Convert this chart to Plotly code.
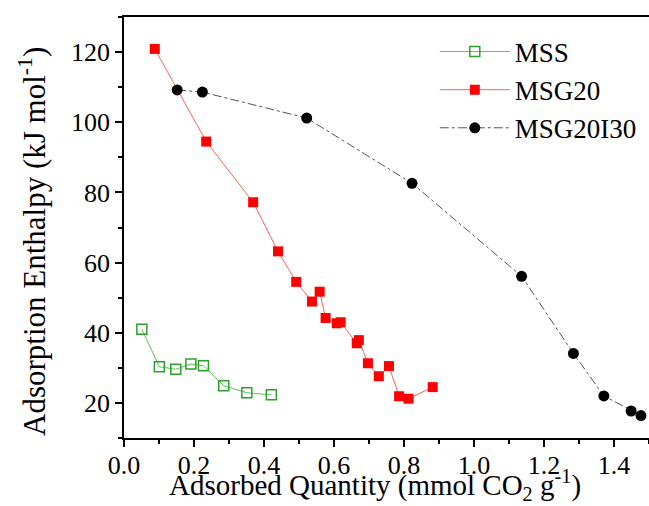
import plotly.graph_objects as go

mss_x = [0.051, 0.101, 0.148, 0.191, 0.227, 0.285, 0.351, 0.421]
mss_y = [41.0, 30.3, 29.6, 31.1, 30.6, 24.9, 22.9, 22.3]

msg20_x = [0.088, 0.235, 0.369, 0.440, 0.492, 0.537, 0.559, 0.576, 0.608, 0.619,
           0.665, 0.671, 0.697, 0.728, 0.757, 0.786, 0.813, 0.882]
msg20_y = [120.9, 94.5, 77.2, 63.2, 54.5, 48.9, 51.7, 44.2, 42.7, 43.0,
           37.0, 37.9, 31.3, 27.6, 30.5, 21.9, 21.2, 24.5]

msg20i30_x = [0.152, 0.224, 0.522, 0.823, 1.136, 1.284, 1.371, 1.449, 1.477]
msg20i30_y = [109.2, 108.6, 101.2, 82.6, 56.1, 34.1, 22.0, 17.7, 16.4]

x_title = "Adsorbed Quantity (mmol CO<sub>2</sub> g<sup>-1</sup>)"
y_title = "Adsorption Enthalpy (kJ mol<sup>-1</sup>)"

FONT = "Liberation Serif"
TICK_FS = 26
XT_FS = 29
YT_FS = 31
LEG_FS = 27

fig = go.Figure()
fig.add_trace(go.Scatter(
    x=mss_x, y=mss_y, name="MSS", mode="lines+markers",
    line=dict(color="#5cc05c", width=1),
    marker=dict(symbol="square-open", size=10, color="#2ca02c", line=dict(width=1.5, color="#33a033")),
))
fig.add_trace(go.Scatter(
    x=msg20_x, y=msg20_y, name="MSG20", mode="lines+markers",
    line=dict(color="#ff6060", width=1),
    marker=dict(symbol="square", size=10, color="#ff0000"),
))
fig.add_trace(go.Scatter(
    x=msg20i30_x, y=msg20i30_y, name="MSG20I30", mode="lines+markers",
    line=dict(color="#555555", width=1, dash="dashdot"),
    marker=dict(symbol="circle", size=11, color="#000000"),
))

fig.update_layout(
    width=649, height=506,
    margin=dict(l=124, r=0, t=17, b=68),
    paper_bgcolor="white", plot_bgcolor="white",
    font=dict(family=FONT, size=TICK_FS, color="black"),
    legend=dict(x=0.592, y=0.975, xanchor="left", yanchor="top",
                bgcolor="rgba(0,0,0,0)", font=dict(family=FONT, size=LEG_FS),
                itemwidth=70, tracegroupgap=0),
    xaxis=dict(
        range=[0, 1.5], tickmode="array",
        tickvals=[0, 0.2, 0.4, 0.6, 0.8, 1.0, 1.2, 1.4],
        ticktext=["0.0", "0.2", "0.4", "0.6", "0.8", "1.0", "1.2", "1.4"],
        ticks="outside", ticklen=7, tickwidth=1.5, tickcolor="black",
        ticklabelstandoff=-4,
        minor=dict(dtick=0.1, ticks="outside", ticklen=4, tickwidth=1.5, tickcolor="black", showgrid=False),
        showline=True, linecolor="black", linewidth=1.5, mirror=True,
        showgrid=False, zeroline=False,
        tickfont=dict(family=FONT, size=TICK_FS),
    ),
    yaxis=dict(
        range=[10, 130], tickmode="array",
        tickvals=[20, 40, 60, 80, 100, 120],
        ticks="outside", ticklen=7, tickwidth=1.5, tickcolor="black",
        minor=dict(tickvals=[10, 30, 50, 70, 90, 110, 130], ticks="outside", ticklen=4, tickwidth=1.5, tickcolor="black", showgrid=False),
        showline=True, linecolor="black", linewidth=1.5, mirror=False,
        showgrid=False, zeroline=False,
        tickfont=dict(family=FONT, size=TICK_FS),
    ),
    annotations=[
        dict(text=x_title, xref="paper", yref="paper", x=0.479, y=-0.163,
             xanchor="center", yanchor="bottom", showarrow=False,
             font=dict(family=FONT, size=XT_FS, color="black")),
        dict(text=y_title, xref="paper", yref="paper", x=-0.173, y=0.466,
             xanchor="center", yanchor="middle", textangle=-90, showarrow=False,
             font=dict(family=FONT, size=YT_FS, color="black")),
    ],
)

fig.write_html("out.html")
